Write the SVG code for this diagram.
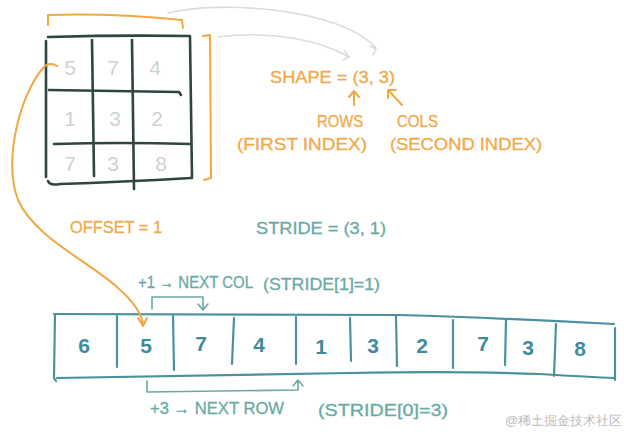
<svg xmlns="http://www.w3.org/2000/svg" width="624" height="434" viewBox="0 0 624 434">
<style>
.grid{fill:none;stroke:#2f4541;stroke-width:2.6;stroke-linecap:round;stroke-linejoin:round}
.org{fill:none;stroke:#f0a843;stroke-width:2;stroke-linecap:round;stroke-linejoin:round}
.gry{fill:none;stroke:#d9dddd;stroke-width:1.6;stroke-linecap:round;stroke-linejoin:round}
.arr{fill:none;stroke:#4b90a1;stroke-width:2.2;stroke-linecap:round;stroke-linejoin:round}
.tl{fill:none;stroke:#6aa9a6;stroke-width:1.6;stroke-linecap:round;stroke-linejoin:round}
.t{font-family:"Liberation Sans","DejaVu Sans",sans-serif}
.ot{fill:#f2a94a;font-size:16px;stroke:#f2a94a;stroke-width:0.3}
.tt{fill:#6aaaa6;font-size:16px;stroke:#6aaaa6;stroke-width:0.3}
.mn{fill:#ccd3d1;font-size:21px;text-anchor:middle}
.an{fill:#3f8a9c;font-size:21px;font-weight:bold;text-anchor:middle}
</style>
<rect width="624" height="434" fill="#ffffff"/>
<g id="matrix">
<path class="grid" d="M48 37 Q120 35 190 36"/>
<path class="grid" d="M46 41 L46 177"/>
<path class="grid" d="M92 40 Q93 110 94 176"/>
<path class="grid" d="M132 40 L134 189"/>
<path class="grid" d="M190 37 L192 178"/>
<path class="grid" d="M49 90 Q120 91 179 92 L181 95"/>
<path class="grid" d="M54 144 Q120 142 191 144"/>
<path class="grid" d="M48 181 Q50 186 60 184 Q120 182 191 178"/>
<g class="t mn">
<text x="70" y="75">5</text><text x="113" y="75">7</text><text x="155" y="75">4</text>
<text x="70" y="126">1</text><text x="115" y="126">3</text><text x="157" y="126">2</text>
<text x="70" y="171">7</text><text x="113" y="171">3</text><text x="161" y="171">8</text>
</g>
</g>
<g id="brackets">
<path class="org" d="M48 25 L48 15 Q110 13 182 20 L183 28"/>
<path class="org" d="M203 36 L210 35 L211 178 L204 180"/>
</g>
<g id="shape-label">
<text class="t ot" x="270" y="83" textLength="125" lengthAdjust="spacingAndGlyphs">SHAPE = (3, 3)</text>
<text class="t ot" x="317" y="127" textLength="46" lengthAdjust="spacingAndGlyphs">ROWS</text>
<text class="t ot" x="397" y="127" textLength="41" lengthAdjust="spacingAndGlyphs">COLS</text>
<text class="t ot" x="237" y="150" textLength="130" lengthAdjust="spacingAndGlyphs">(FIRST INDEX)</text>
<text class="t ot" x="390" y="150" textLength="152" lengthAdjust="spacingAndGlyphs">(SECOND INDEX)</text>
</g>
<g id="offset-label">
<text class="t ot" x="70" y="233" textLength="92" lengthAdjust="spacingAndGlyphs">OFFSET = 1</text>
</g>
<g id="stride-label">
<text class="t tt" x="256" y="234" textLength="130" lengthAdjust="spacingAndGlyphs">STRIDE = (3, 1)</text>
<text class="t tt" x="138" y="288" font-size="15" textLength="115" lengthAdjust="spacingAndGlyphs">+1 → NEXT COL</text>
<text class="t tt" x="263" y="290" textLength="117" lengthAdjust="spacingAndGlyphs">(STRIDE[1]=1)</text>
<text class="t tt" x="150" y="414" font-size="15" textLength="134" lengthAdjust="spacingAndGlyphs">+3 → NEXT ROW</text>
<text class="t tt" x="318" y="416" textLength="130" lengthAdjust="spacingAndGlyphs">(STRIDE[0]=3)</text>
</g>
<g id="array">
<path class="arr" d="M54 314 L400 315 Q500 318 614 324"/>
<path class="arr" d="M55 314 L54 378 L56 381"/>
<path class="arr" d="M57 378 Q200 376 350 373 Q460 371 540 374 Q590 377 615 378"/>
<path class="arr" d="M615 328 L615 380"/>
<path class="arr" d="M117 316 L117 367"/>
<path class="arr" d="M173 316 L174 370"/>
<path class="arr" d="M234 318 L232 364"/>
<path class="arr" d="M296 317 L296 364"/>
<path class="arr" d="M350 318 L351 361"/>
<path class="arr" d="M396 316 L397 366"/>
<path class="arr" d="M453 320 L453 368"/>
<path class="arr" d="M506 320 L505 365"/>
<path class="arr" d="M556 324 L554 376"/>
<g class="t an">
<text x="84" y="353">6</text><text x="146" y="353">5</text><text x="201" y="351">7</text>
<text x="259" y="352">4</text><text x="321" y="354">1</text><text x="373" y="353">3</text>
<text x="422" y="353">2</text><text x="483" y="351">7</text><text x="528" y="355">3</text>
<text x="580" y="356">8</text>
</g>
</g>
<g id="connectors">
<path class="gry" d="M168 13 C 220 0, 340 8, 376 48"/>
<path class="gry" d="M370 46 L376 49 L373 55"/>
<path class="gry" d="M218 37 C 270 30, 320 40, 349 57"/>
<path class="gry" d="M345 51 L349 57 L343 60"/>
<path class="org" d="M354 105 L354 92 M349 97 L354 91 L359 97"/>
<path class="org" d="M402 105 L389 91 M388 98 L388 90 L396 90"/>
<path class="org" d="M57 66 Q49 61 43 68 C 20 95, 3 160, 18 200 C 35 238, 90 262, 118 288 C 133 301, 141 312, 143 324"/>
<path class="org" d="M138 318 L143 326 L147 318"/>
<path class="tl" d="M152 309 L152 297 L203 297 L203 309 M198 304 L203 310 L208 304"/>
<path class="tl" d="M147 381 L147 392 L298 390 L298 381 M293 386 L298 380 L303 386"/>
</g>
<text class="t" x="505" y="425" font-size="13" fill="#bdbdbd" font-family="'Liberation Sans','Noto Sans CJK SC',sans-serif">@稀土掘金技术社区</text>
</svg>
